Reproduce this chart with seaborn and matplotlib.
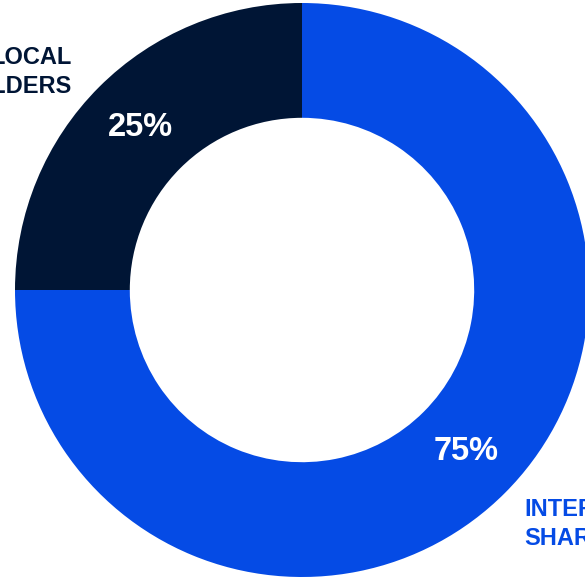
import matplotlib
matplotlib.use("Agg")
import matplotlib.pyplot as plt
import seaborn as sns

categories = ["LOCAL\nSHAREHOLDERS", "INTERNATIONAL\nSHAREHOLDERS"]
shares = [25, 75]
pct_labels = ["25%", "75%"]
colors = ["#001535", "#054BE5"]

sns.set_theme(style="white")
plt.rcParams['font.family'] = ['Liberation Sans', 'DejaVu Sans']

W, H = 585, 578
fig = plt.figure(figsize=(W / 100, H / 100), dpi=100)
ax = fig.add_axes([0, 0, 1, 1])

cx, cy, R = 302, H - 290, 287
ax.pie(shares, colors=colors, startangle=90, counterclock=True,
       center=(cx, cy), radius=R, frame=True,
       wedgeprops=dict(width=R * 0.4, linewidth=0))
ax.set_xlim(0, W)
ax.set_ylim(0, H)
ax.set_aspect('equal')
ax.axis('off')

# percentage labels
ax.text(140, H - 127, pct_labels[0], color="white", fontsize=23.5, fontweight='bold',
        ha='center', va='center')
ax.text(466, H - 452, pct_labels[1], color="white", fontsize=23.5, fontweight='bold',
        ha='center', va='center')

# category labels
ax.text(72, H - 72, categories[0], color=colors[0], fontsize=17, fontweight='bold',
        ha='right', va='center', multialignment='right', linespacing=1.35)
ax.text(524, H - 524, categories[1], color=colors[1], fontsize=17, fontweight='bold',
        ha='left', va='center', multialignment='left', linespacing=1.35)

fig.savefig("out.png", dpi=100)
